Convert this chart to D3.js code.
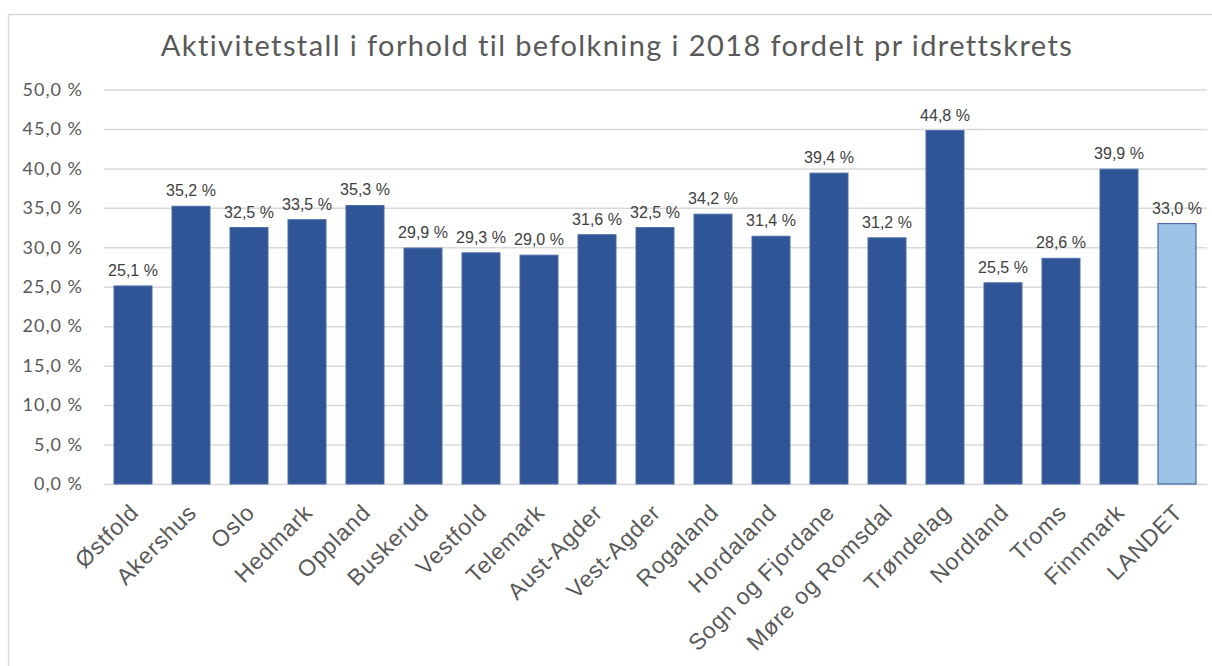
<!DOCTYPE html>
<html>
<head>
<meta charset="utf-8">
<script src="https://cdn.jsdelivr.net/npm/d3@7"></script>
<style>
  body { margin: 0; background: #fff; }
  svg { display: block; }
</style>
</head>
<body>
<div id="chart"></div>
<script>
const width = 1212, height = 666;

const title = "Aktivitetstall i forhold til befolkning i 2018 fordelt pr idrettskrets";

const kretser = ["Østfold", "Akershus", "Oslo", "Hedmark", "Oppland", "Buskerud", "Vestfold",
    "Telemark", "Aust-Agder", "Vest-Agder", "Rogaland", "Hordaland", "Sogn og Fjordane",
    "Møre og Romsdal", "Trøndelag", "Nordland", "Troms", "Finnmark", "LANDET"];

const aktivitet = [25.1, 35.2, 32.5, 33.5, 35.3, 29.9, 29.3, 29.0, 31.6, 32.5, 34.2, 31.4,
    39.4, 31.2, 44.8, 25.5, 28.6, 39.9, 33.0];

const yTicks = [0, 5, 10, 15, 20, 25, 30, 35, 40, 45, 50];

const margin = { left: 104, right: 6, top: 89.5, bottom: 182 };

const pct = d3.format(".1f");
const fmt = v => pct(v).replace(".", ",") + " %";

const svg = d3.select("#chart").append("svg")
    .attr("width", width)
    .attr("height", height);

svg.append("rect")
    .attr("width", width).attr("height", height)
    .attr("fill", "#fff");

// chart frame (runs off the right/bottom of the picture)
svg.append("rect")
    .attr("x", 8.5).attr("y", 14.5)
    .attr("width", width).attr("height", height)
    .attr("fill", "none")
    .attr("stroke", "#d9d9d9")
    .attr("stroke-width", 1.5);

svg.append("text")
    .attr("x", 617).attr("y", 56)
    .attr("text-anchor", "middle")
    .attr("font-family", "Lato, 'Noto Sans', sans-serif")
    .attr("font-size", 29)
    .attr("letter-spacing", 1.4)
    .attr("fill", "#595959")
    .text(title);

const x = d3.scaleBand()
    .domain(kretser)
    .range([margin.left, width - margin.right])
    .paddingInner(0.345)
    .paddingOuter(0.1725);

const y = d3.scaleLinear()
    .domain([0, 50])
    .range([height - margin.bottom, margin.top]);

const yAxis = svg.append("g")
    .attr("transform", `translate(${margin.left},0)`)
    .call(d3.axisLeft(y)
        .tickValues(yTicks)
        .tickSize(-(width - margin.right - margin.left + 1))
        .tickPadding(21)
        .tickFormat(fmt));

yAxis.select(".domain").remove();
yAxis.selectAll(".tick line")
    .attr("stroke", "#d9d9d9")
    .attr("stroke-width", 1.5);
yAxis.selectAll(".tick text")
    .attr("font-family", "Lato, 'Noto Sans', sans-serif")
    .attr("font-size", 18)
    .attr("letter-spacing", 1)
    .attr("fill", "#595959");

svg.append("g")
    .selectAll("rect")
    .data(aktivitet)
    .join("rect")
    .attr("x", (d, i) => x(kretser[i]))
    .attr("y", d => y(d))
    .attr("width", x.bandwidth())
    .attr("height", d => y(0) - y(d))
    .attr("fill", (d, i) => kretser[i] === "LANDET" ? "#9dc3e6" : "#2f5597")
    .attr("stroke", (d, i) => kretser[i] === "LANDET" ? "#2f5597" : "#4a6daa")
    .attr("stroke-width", 1);

svg.append("g")
    .selectAll("text")
    .data(aktivitet)
    .join("text")
    .attr("x", (d, i) => x(kretser[i]) + x.bandwidth() / 2)
    .attr("y", d => y(d) - 10)
    .attr("text-anchor", "middle")
    .attr("font-family", "'Liberation Sans', Arial, sans-serif")
    .attr("font-size", 16)
    .attr("fill", "#404040")
    .text(fmt);

svg.append("g")
    .selectAll("text")
    .data(kretser)
    .join("text")
    .attr("transform", d => `translate(${x(d) + x.bandwidth() / 2 + 7},514) rotate(-45)`)
    .attr("text-anchor", "end")
    .attr("font-family", "'Liberation Sans', Arial, sans-serif")
    .attr("font-size", 23)
    .attr("letter-spacing", 0.8)
    .attr("fill", "#595959")
    .text(d => d);
</script>
</body>
</html>
